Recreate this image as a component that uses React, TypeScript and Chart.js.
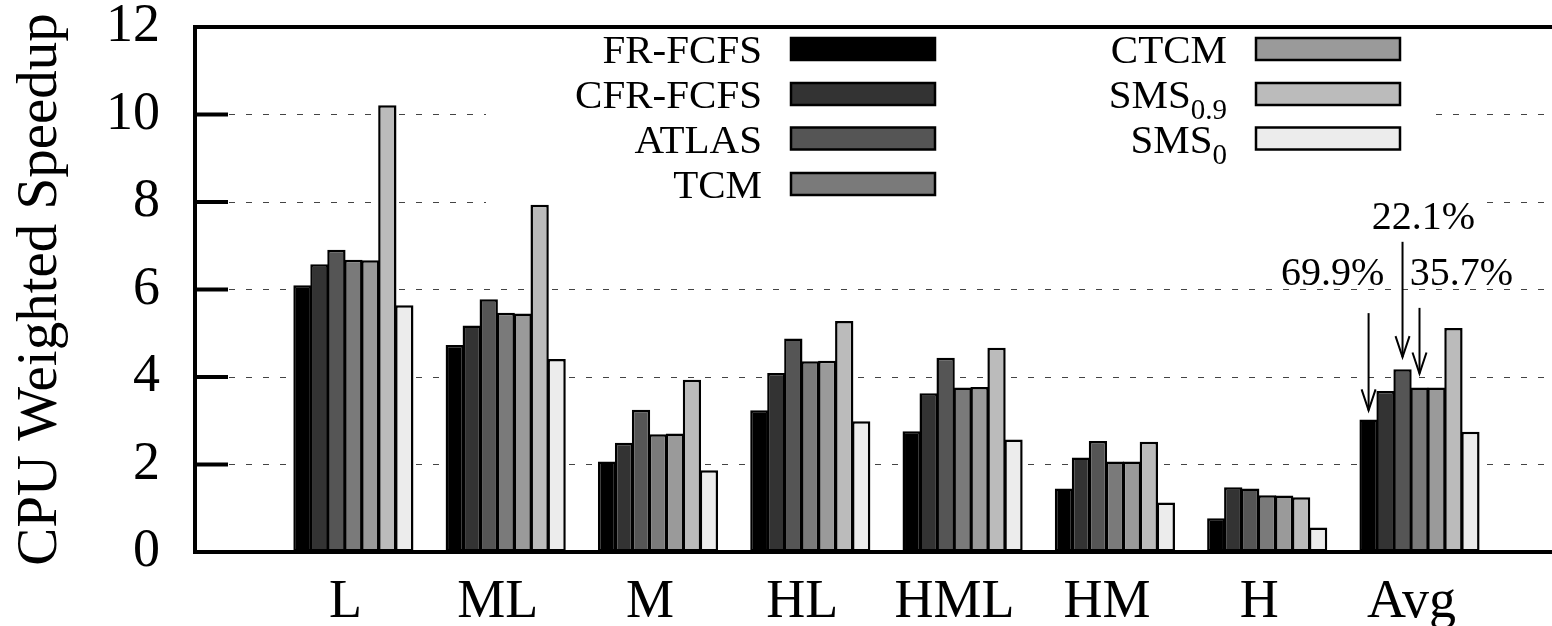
import React, { useEffect, useRef } from 'react';
import { Chart, registerables } from 'chart.js';

Chart.register(...registerables);

const categories = ['L', 'ML', 'M', 'HL', 'HML', 'HM', 'H', 'Avg'];
const seriesMain = ['FR-FCFS', 'CFR-FCFS', 'ATLAS', 'TCM', 'CTCM', 'SMS', 'SMS'];
const seriesSub = ['', '', '', '', '', '0.9', '0'];
const frfcfs = [6.10, 4.73, 2.07, 3.24, 2.76, 1.45, 0.77, 3.03];
const cfrfcfs = [6.58, 5.18, 2.50, 4.09, 3.63, 2.16, 1.48, 3.68];
const atlas = [6.91, 5.78, 3.25, 4.88, 4.44, 2.54, 1.45, 4.18];
const tcm = [6.68, 5.47, 2.69, 4.36, 3.76, 2.07, 1.30, 3.76];
const ctcm = [6.67, 5.45, 2.71, 4.37, 3.77, 2.07, 1.29, 3.76];
const sms09 = [10.21, 7.94, 3.94, 5.28, 4.67, 2.52, 1.25, 5.12];
const sms0 = [5.64, 4.41, 1.87, 2.99, 2.57, 1.13, 0.56, 2.75];
const seriesValues = [frfcfs, cfrfcfs, atlas, tcm, ctcm, sms09, sms0];
const seriesColors = ['#000000', '#333333', '#555555', '#7a7a7a', '#9a9a9a', '#bbbbbb', '#ececec'];
const yTicks = [0, 2, 4, 6, 8, 10, 12];
const annotationTexts = ['69.9%', '22.1%', '35.7%'];
const annotationSeries = [0, 2, 3];

const FONT = "'Liberation Serif', 'Times New Roman', serif";

// layout (style) of annotations: text offset from bar centre (px), text baseline value, arrow tail value, gap above bar (px)
const annLayout = [
  { dx: -36, textVal: 6.1, tailVal: 5.46, gap: 9, opaque: false },
  { dx: 21, textVal: 7.38, tailVal: 7.09, gap: 12, opaque: true },
  { dx: 42, textVal: 6.1, tailVal: 5.58, gap: 14, opaque: false },
];

const keyPlugin = {
  id: 'keyAndFrame',
  beforeDatasetsDraw(chart: any) {
    const ctx = chart.ctx;
    const area = chart.chartArea;
    ctx.save();
    ctx.fillStyle = '#ffffff';
    ctx.fillRect(486, area.top, 1427 - 486, 203.5 - area.top);
    ctx.restore();
  },
  afterDatasetsDraw(chart: any) {
    const ctx = chart.ctx;
    const area = chart.chartArea;
    const y = chart.scales.y;
    ctx.save();
    // frame
    ctx.strokeStyle = '#000';
    ctx.lineWidth = 4;
    ctx.lineCap = 'square';
    ctx.beginPath();
    ctx.moveTo(area.right + 10, area.top);
    ctx.lineTo(area.left, area.top);
    ctx.lineTo(area.left, area.bottom);
    ctx.lineTo(area.right + 10, area.bottom);
    ctx.stroke();
    ctx.lineCap = 'butt';
    yTicks.forEach((t) => {
      if (t === 0 || t === 12) return;
      const py = y.getPixelForValue(t);
      ctx.beginPath();
      ctx.moveTo(area.left, py);
      ctx.lineTo(area.left + 33, py);
      ctx.stroke();
    });

    // legend
    const rowCenters = [49, 94, 138.5, 184];
    seriesMain.forEach((name, i) => {
      const col = i < 4 ? 0 : 1;
      const row = i < 4 ? i : i - 4;
      const bx = col === 0 ? 791 : 1256;
      const bw = 144;
      const bh = 22;
      const cy = rowCenters[row];
      ctx.fillStyle = seriesColors[i];
      ctx.fillRect(bx, cy - bh / 2, bw, bh);
      ctx.strokeStyle = '#000';
      ctx.lineWidth = 2.5;
      ctx.strokeRect(bx, cy - bh / 2, bw, bh);
      const right = bx - 29;
      ctx.fillStyle = '#000';
      ctx.textBaseline = 'alphabetic';
      ctx.textAlign = 'left';
      const base = cy + 14;
      const sub = seriesSub[i];
      let subW = 0;
      if (sub) {
        ctx.font = `29px ${FONT}`;
        subW = ctx.measureText(sub).width;
      }
      ctx.font = `41px ${FONT}`;
      const mainW = ctx.measureText(name).width;
      ctx.fillText(name, right - subW - mainW, base);
      if (sub) {
        ctx.font = `29px ${FONT}`;
        ctx.fillText(sub, right - subW, base + 11);
      }
    });

    // annotations
    annotationTexts.forEach((txt, k) => {
      const s = annotationSeries[k];
      const lay = annLayout[k];
      const bar = chart.getDatasetMeta(s).data[categories.length - 1];
      const bx = bar.x;
      const tipY = bar.y - lay.gap;
      const tailY = y.getPixelForValue(lay.tailVal);
      ctx.strokeStyle = '#000';
      ctx.lineWidth = 2;
      ctx.beginPath();
      ctx.moveTo(bx, tailY);
      ctx.lineTo(bx, tipY);
      ctx.stroke();
      ctx.beginPath();
      ctx.moveTo(bx - 7, tipY - 21);
      ctx.lineTo(bx, tipY);
      ctx.lineTo(bx + 7, tipY - 21);
      ctx.stroke();
      ctx.font = `40px ${FONT}`;
      ctx.textAlign = 'center';
      ctx.textBaseline = 'alphabetic';
      const ty = y.getPixelForValue(lay.textVal);
      const tx = bx + lay.dx;
      if (lay.opaque) {
        const w = ctx.measureText(txt).width;
        ctx.fillStyle = '#fff';
        ctx.fillRect(tx - w / 2 - 2, ty - 30, w + 4, 34);
      }
      ctx.fillStyle = '#000';
      ctx.fillText(txt, tx, ty);
    });
    ctx.restore();
  },
};

export default function App() {
  const ref = useRef<HTMLCanvasElement | null>(null);
  useEffect(() => {
    document.body.style.margin = '0';
    const canvas = ref.current;
    if (!canvas) return;
    const datasets = seriesMain.map((name, i) => ({
      label: name + seriesSub[i],
      data: seriesValues[i].map((v, j) => ({ x: j, y: v })),
      backgroundColor: seriesColors[i],
      borderColor: '#000000',
      borderWidth: 2.5,
      borderSkipped: false as const,
      categoryPercentage: 0.78,
      barPercentage: 1.08,
    }));
    const chart = new Chart(canvas, {
      type: 'bar',
      data: { datasets },
      options: {
        animation: false,
        responsive: false,
        maintainAspectRatio: false,
        devicePixelRatio: 1,
        layout: { padding: { top: 27, right: 0, left: 0, bottom: 0 } },
        plugins: { legend: { display: false }, tooltip: { enabled: false } },
        scales: {
          x: {
            type: 'linear',
            min: -1.04,
            max: 7.87,
            offset: false,
            afterFit: (s: any) => { s.height = 74; s.paddingLeft = 0; s.paddingRight = 0; },
            afterBuildTicks: (s: any) => { s.ticks = categories.map((_, i) => ({ value: i })); },
            grid: { display: false, drawTicks: false },
            border: { display: false },
            ticks: {
              autoSkip: false,
              maxRotation: 0,
              padding: 18,
              labelOffset: -8,
              color: '#000',
              font: { family: FONT, size: 54 },
              callback: (v: any) => categories[Math.round(Number(v))] ?? '',
            },
          },
          y: {
            min: 0,
            max: 12,
            afterFit: (s: any) => { s.width = 195; s.paddingTop = 0; s.paddingBottom = 0; },
            afterBuildTicks: (s: any) => { s.ticks = yTicks.map((v) => ({ value: v })); },
            grid: {
              drawTicks: false,
              color: (c: any) => (c.tick && (c.tick.value === 0 || c.tick.value === 12) ? 'rgba(0,0,0,0)' : '#444'),
              lineWidth: 1,
            },
            border: { display: false, dash: [6, 11] },
            ticks: {
              padding: 35,
              color: '#000',
              font: { family: FONT, size: 54 },
            },
            title: {
              display: true,
              text: 'CPU Weighted Speedup',
              color: '#000',
              font: { family: FONT, size: 57 },
              padding: { top: 7, bottom: 0 },
            },
          },
        },
      },
      plugins: [keyPlugin],
    });
    return () => chart.destroy();
  }, []);
  return (
    <div style={{ width: 1552, height: 626, background: '#fff' }}>
      <canvas ref={ref} width={1552} height={626} style={{ display: 'block' }} />
    </div>
  );
}
